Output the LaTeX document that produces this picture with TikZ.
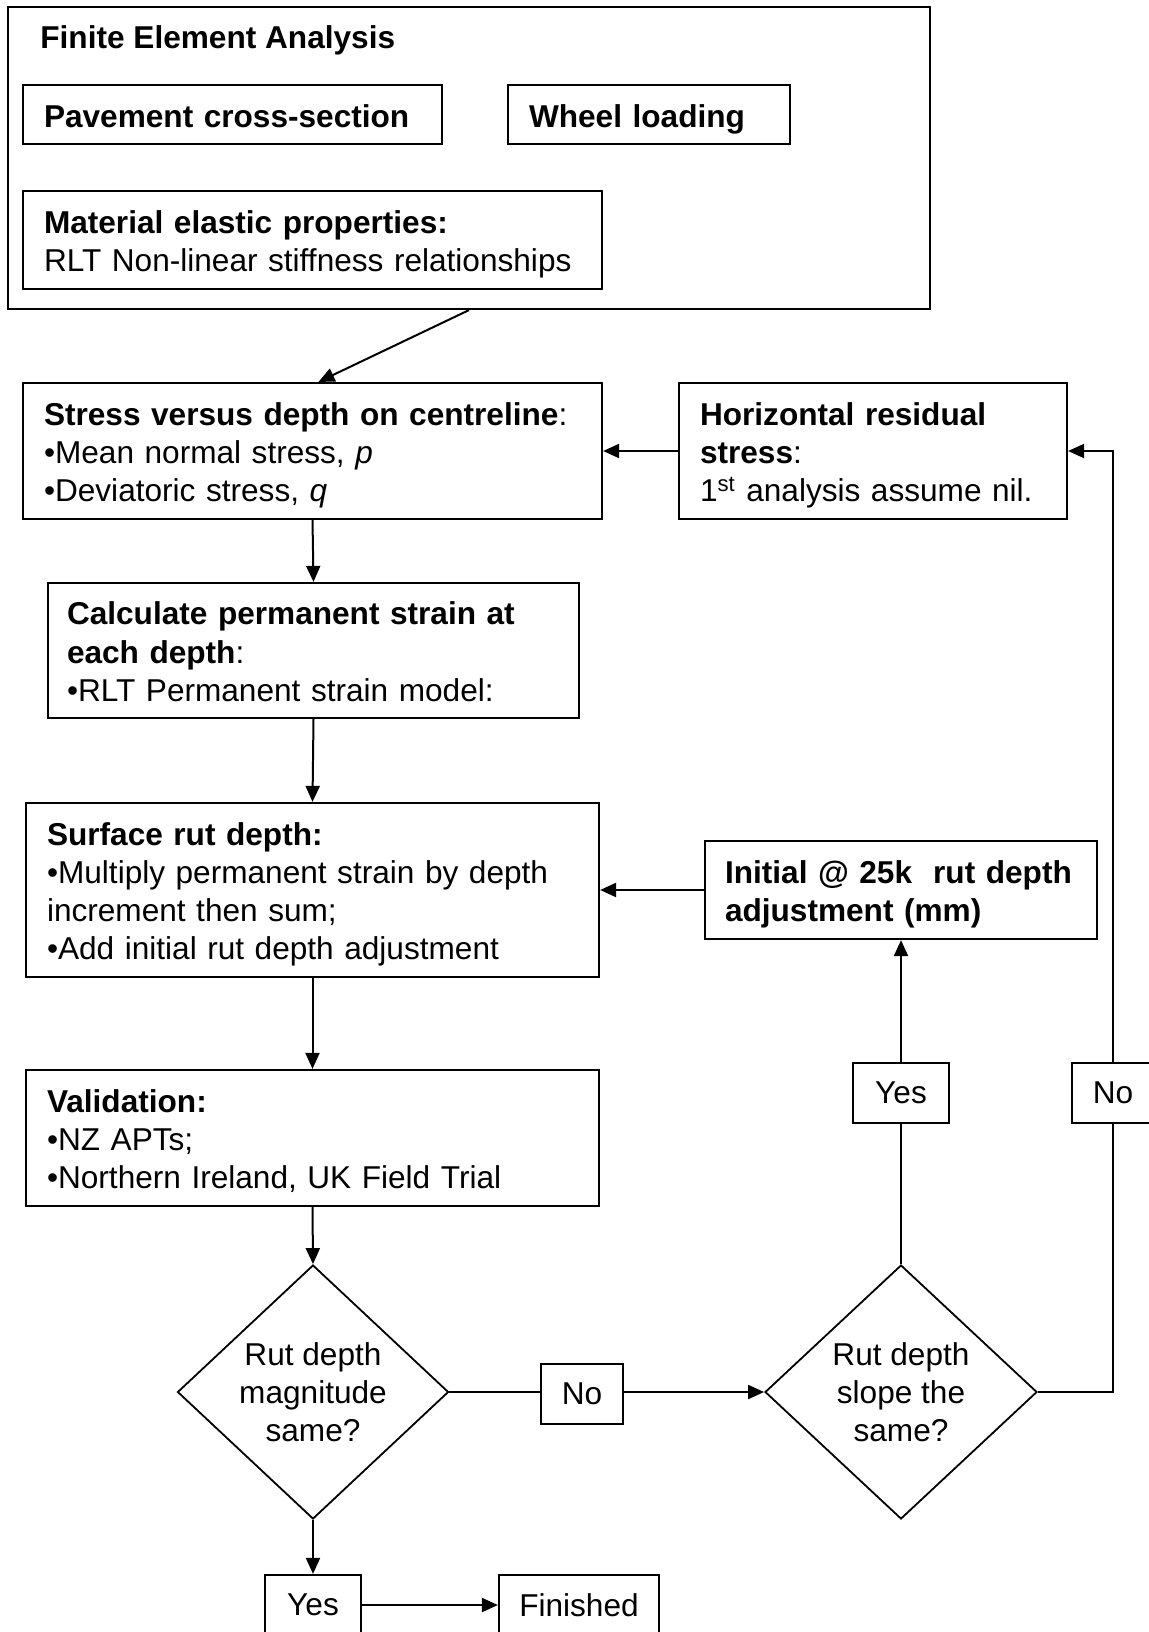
\documentclass[tikz,border=0pt]{standalone}
\usepackage{fontspec}
\setmainfont{Liberation Sans}
\usetikzlibrary{arrows.meta,shapes.geometric,calc}
\begin{document}
\begin{tikzpicture}[x=0.5pt,y=-0.5pt,
  every node/.style={font=\fontsize{15.8}{19.1}\selectfont},
  box/.style={draw, line width=1.1pt, rectangle, inner xsep=10.5pt, inner ysep=0pt, align=left,
    execute at begin node={\rule{0pt}{16pt}}, execute at end node={\rule[-3.5pt]{0pt}{3.5pt}}},
  lbl/.style={draw, line width=1.1pt, rectangle, inner sep=0pt, align=center},
  dia/.style={draw, line width=0.9pt, diamond, inner sep=0pt, align=center},
  arr/.style={line width=1pt, -{Triangle[length=8pt,width=7pt]}},
  ln/.style={line width=1pt}]
\useasboundingbox (0,0) rectangle (1149,1632);
\clip (0,0) rectangle (1149,1632);

% Finite element analysis group
\node[draw, line width=1.1pt, rectangle, inner sep=0pt, minimum width=461pt, minimum height=151pt] (fea) at (469,158) {};
\node[anchor=base west, inner sep=0pt, font=\fontsize{15.8}{19.1}\selectfont\bfseries] (title) at (40,49) {Finite Element Analysis};
\node[box, text width=188.5pt, minimum height=29.5pt] (pav) at (232.5,114.5) {\textbf{Pavement cross-section}};
\node[box, text width=120pt, minimum height=29.5pt] (wheel) at (649,114.5) {\textbf{Wheel loading}};
\node[box, text width=268.5pt, minimum height=49pt] (mat) at (312.5,240) {\textbf{Material elastic properties:}\\RLT Non-linear stiffness relationships};

% main column
\node[box, text width=268.5pt, minimum height=68pt] (stress) at (312.5,451)
  {\textbf{Stress versus depth on centreline}:\\\textbullet Mean normal stress, \textit{p}\\\textbullet Deviatoric stress, \textit{q}};
\node[box, text width=173pt, minimum height=68pt] (horiz) at (873,451)
  {\textbf{Horizontal residual}\\\textbf{stress}:\\1\textsuperscript{st} analysis assume nil.};
\node[box, inner xsep=9.5pt, text width=246.5pt, minimum height=67.5pt] (calc) at (313.5,650.5)
  {\textbf{Calculate permanent strain at}\\\textbf{each depth}:\\\textbullet RLT Permanent strain model:};
\node[box, text width=265.5pt, minimum height=87pt] (surface) at (312.5,890)
  {\textbf{Surface rut depth:}\\\textbullet Multiply permanent strain by depth\\increment then sum;\\\textbullet Add initial rut depth adjustment};
\node[box, inner xsep=10pt, text width=176pt, minimum height=49pt] (initial) at (901,890)
  {\textbf{Initial @ 25k\ \ rut depth}\\\textbf{adjustment (mm)}};
\node[box, text width=265.5pt, minimum height=68pt] (valid) at (312.5,1138)
  {\textbf{Validation:}\\\textbullet NZ APTs;\\\textbullet Northern Ireland, UK Field Trial};

% decisions
\node[dia, minimum width=135.5pt, minimum height=127pt] (d1) at (313,1392) {Rut depth\\magnitude\\same?};
\node[dia, minimum width=136pt, minimum height=127pt] (d2) at (901,1392) {Rut depth\\slope the\\same?};

% labels
\node[lbl, minimum width=41pt, minimum height=30pt] (no1) at (582,1394) {No};
\node[lbl, minimum width=48pt, minimum height=30pt] (yes2) at (901,1093) {Yes};
\node[lbl, minimum width=41pt, minimum height=30pt] (no2) at (1113,1093) {No};
\node[lbl, minimum width=48pt, minimum height=30pt] (yes1) at (313,1605) {Yes};
\node[lbl, minimum width=80pt, minimum height=30pt] (fin) at (579,1605) {Finished};

% connectors
\draw[arr] (fea.south) -- ([xshift=3pt]stress.north);
\draw[arr] (stress.south) -- (calc.north);
\draw[arr] (calc.south) -- (surface.north);
\draw[arr] (surface.south) -- (valid.north);
\draw[arr] (valid.south) -- (d1.north);
\draw[arr] (horiz.west) -- (stress.east);
\draw[arr] (initial.west) -- (surface.east);
\draw[ln] (d1.east) -- (d1.east -| no1.west);
\draw[arr] (no1.east |- d2.west) -- (d2.west);
\draw[arr] (d1.south) -- (yes1.north);
\draw[arr] (yes1.east) -- (fin.west);
\draw[ln] (d2.north) -- (yes2.south);
\draw[arr] (yes2.north) -- (initial.south);
\draw[ln] (d2.east) -| (no2.south);
\draw[arr] (no2.north) |- (horiz.east);
\end{tikzpicture}
\end{document}
